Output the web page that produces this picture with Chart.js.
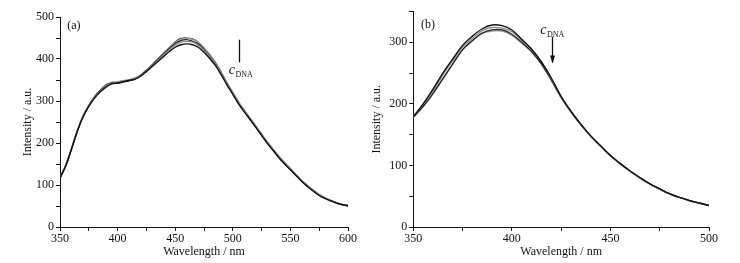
<!DOCTYPE html>
<html>
<head>
<meta charset="utf-8">
<script src="https://cdn.jsdelivr.net/npm/chart.js@4/dist/chart.umd.min.js"></script>
<style>
  html, body { margin: 0; padding: 0; background: #fff; }
  #wrap { position: relative; width: 740px; height: 263px; overflow: hidden; }
  canvas { position: absolute; top: 0; }
  #ca { left: 0; }
  #cb { left: 370px; }
</style>
</head>
<body>
<div id="wrap">
  <canvas id="ca" width="370" height="263"></canvas>
  <canvas id="cb" width="370" height="263"></canvas>
</div>
<script>
// ---------- Panel (a) data ----------
const wavelengthA = [350,355,360,365,370,375,380,385,390,395,400,405,410,415,420,425,430,435,440,445,450,455,460,465,470,475,480,485,490,495,500,505,510,515,520,525,530,535,540,545,550,555,560,565,570,575,580,585,590,595,600];
const a1 = [117,146,186,228,262,287,307,322,333,341,343,346,349,352,359,370,382,394,406,418,428,434,436,434,428,416,401,384,362,338,316,293,274,256,237,218,199,182,165,150,136,122,108,96,85,75,68,62,57,53,51];
const a2 = [118,148,188,230,264,289,309,324,336,343,345,348,350,353,360,372,384,397,410,422,433,440,442,440,433,421,406,388,366,342,320,297,277,258,240,221,202,185,168,153,139,124,110,98,87,77,69,63,58,54,51];
const a3 = [116,145,185,227,263,288,310,325,337,344,342,345,348,352,361,373,385,399,412,425,437,444,446,442,436,423,407,389,366,341,318,295,275,257,238,219,200,183,166,151,137,123,109,97,86,76,68,62,57,53,50];
const a4 = [117,147,187,229,265,290,311,326,338,345,346,349,351,355,362,374,387,401,415,428,440,447,449,446,439,427,411,392,369,344,321,298,278,259,241,222,203,186,169,154,140,125,111,99,88,78,70,64,58,54,52];
const a5 = [118,146,186,228,264,289,309,326,339,344,344,347,350,354,361,373,386,400,414,427,441,449,450,448,440,426,410,391,368,343,320,297,277,258,239,220,201,184,167,152,138,124,110,98,87,77,69,63,58,53,51];
const xTicksA = { min: 350, max: 600, step: 25, labelEvery: 50 };
const yTicksA = { min: 0, max: 500, step: 50, labelEvery: 100 };

// ---------- Panel (b) data ----------
const wavelengthB = [350,355,360,365,370,375,380,385,390,395,400,405,410,415,420,425,430,435,440,445,450,455,460,465,470,475,480,485,490,495,500];
const b1 = [179,200,224,250,273,295,310,322,328,327,320,305,289,268,242,212,188,167,148,132,116,103,91,80,70,62,54,48,43,39,35];
const b2 = [179,199,221,247,270,292,306,319,324,323,317,303,288,268,241,211,187,167,147,131,116,103,90,80,70,61,54,48,43,39,35];
const b3 = [178,196,217,241,265,288,303,315,320,320,313,300,285,265,239,210,187,166,148,132,116,103,91,80,70,62,54,48,43,39,35];
const b4 = [178,195,216,240,264,287,302,314,318,318,311,298,284,264,238,210,186,166,147,131,116,102,90,79,70,61,54,48,43,38,35];
const xTicksB = { min: 350, max: 500, step: 25, labelEvery: 50 };
const yTicksB = { min: 0, max: 350, step: 50, labelEvery: 100 };

const xTitle = 'Wavelength / nm';
const yTitle = 'Intensity / a.u.';

// annotations (in data coordinates)
const annA = { panel: '(a)', panelPos: [362, 479], arrow: { x: 505.5, from: 392, to: 446, head: false }, label: { x: 506, y: 372 } };
const annB = { panel: '(b)', panelPos: [357.5, 328], arrow: { x: 420.2, from: 309, to: 267, head: true }, label: { x: 420, y: 318 } };

Chart.defaults.font.family = "'Liberation Serif', 'Times New Roman', serif";
Chart.defaults.font.size = 12;
Chart.defaults.color = '#111';

function series(xs, ys) { return xs.map((x, i) => ({ x: x, y: ys[i] })); }

const annPlugin = {
  id: 'ann',
  afterDatasetsDraw(chart, args, opts) {
    const a = opts.data; if (!a) return;
    const ctx = chart.ctx, xs = chart.scales.x, ys = chart.scales.y;
    ctx.save();
    ctx.fillStyle = '#111';
    ctx.strokeStyle = '#111';
    ctx.font = "12px 'Liberation Serif'";
    ctx.textAlign = 'center'; ctx.textBaseline = 'middle';
    ctx.fillText(a.panel, xs.getPixelForValue(a.panelPos[0]), ys.getPixelForValue(a.panelPos[1]));
    // arrow
    const ax = Math.round(xs.getPixelForValue(a.arrow.x)) + 0.5;
    const y1 = ys.getPixelForValue(a.arrow.from), y2 = ys.getPixelForValue(a.arrow.to);
    ctx.lineWidth = 1.3;
    ctx.beginPath(); ctx.moveTo(ax, y1); ctx.lineTo(ax, y2); ctx.stroke();
    if (a.arrow.head) {
      const dir = y2 > y1 ? 1 : -1;
      ctx.beginPath();
      ctx.moveTo(ax, y2 + dir * 1);
      ctx.lineTo(ax - 2.5, y2 - dir * 7);
      ctx.lineTo(ax + 2.5, y2 - dir * 7);
      ctx.closePath(); ctx.fill();
    }
    // c_DNA label
    const lx = xs.getPixelForValue(a.label.x), ly = ys.getPixelForValue(a.label.y);
    ctx.textAlign = 'left'; ctx.textBaseline = 'alphabetic';
    ctx.font = "italic 14px 'Liberation Serif'";
    const cw = ctx.measureText('c').width;
    ctx.fillText('c', lx - 11, ly + 3);
    ctx.font = "8px 'Liberation Serif'";
    ctx.fillText('DNA', lx - 11 + cw + 0.5, ly + 6);
    ctx.restore();
  }
};

function makeChart(id, xs, sets, xt, yt, ann, layout) {
  const palette = ['#111111', '#8a8a8a', '#222222', '#a0a0a0', '#3a3a3a'];
  const widths = [1.4, 1.3, 1.3, 1.3, 1.2];
  return new Chart(document.getElementById(id), {
    type: 'line',
    data: {
      datasets: sets.map((s, i) => ({
        data: series(xs, s),
        borderColor: palette[i % palette.length],
        borderWidth: widths[i % widths.length],
        pointRadius: 0,
        tension: 0.35,
        fill: false
      }))
    },
    options: {
      responsive: false,
      animation: false,
      devicePixelRatio: 1,
      layout: { padding: layout.padding },
      plugins: { legend: { display: false }, tooltip: { enabled: false }, ann: { data: ann } },
      scales: {
        x: {
          type: 'linear', min: xt.min, max: xt.max,
          afterFit: s => { s.height = layout.xh; },
          border: { display: true, color: '#111', width: 1 },
          grid: { display: true, drawOnChartArea: false, drawTicks: true, tickLength: 4, color: '#111', tickColor: '#111' },
          ticks: { stepSize: xt.step, autoSkip: false, maxRotation: 0, padding: 1, color: '#111',
                   callback: v => (v % xt.labelEvery === 0 ? String(v) : '') },
          title: { display: true, text: xTitle, color: '#111', padding: { top: 0, bottom: layout.xtp } }
        },
        y: {
          type: 'linear', min: yt.min, max: yt.max,
          afterFit: s => { s.width = layout.yw; },
          border: { display: true, color: '#111', width: 1 },
          grid: { display: true, drawOnChartArea: false, drawTicks: true, tickLength: 4, color: '#111', tickColor: '#111' },
          ticks: { stepSize: yt.step, autoSkip: false, padding: 2, color: '#111',
                   callback: v => (v % yt.labelEvery === 0 ? String(v) : '') },
          title: { display: true, text: yTitle, color: '#111', padding: { top: layout.ytp, bottom: 0 } }
        }
      }
    },
    plugins: [annPlugin]
  });
}

makeChart('ca', wavelengthA, [a1, a2, a3, a4, a5], xTicksA, yTicksA, annA,
  { padding: { left: 0, right: 22, top: 17, bottom: 0 }, xh: 36, yw: 60, xtp: 4, ytp: 21 });
makeChart('cb', wavelengthB, [b1, b2, b3, b4], xTicksB, yTicksB, annB,
  { padding: { left: 0, right: 31, top: 11.5, bottom: 0 }, xh: 36, yw: 43.3, xtp: 4, ytp: 0 });
</script>
</body>
</html>
